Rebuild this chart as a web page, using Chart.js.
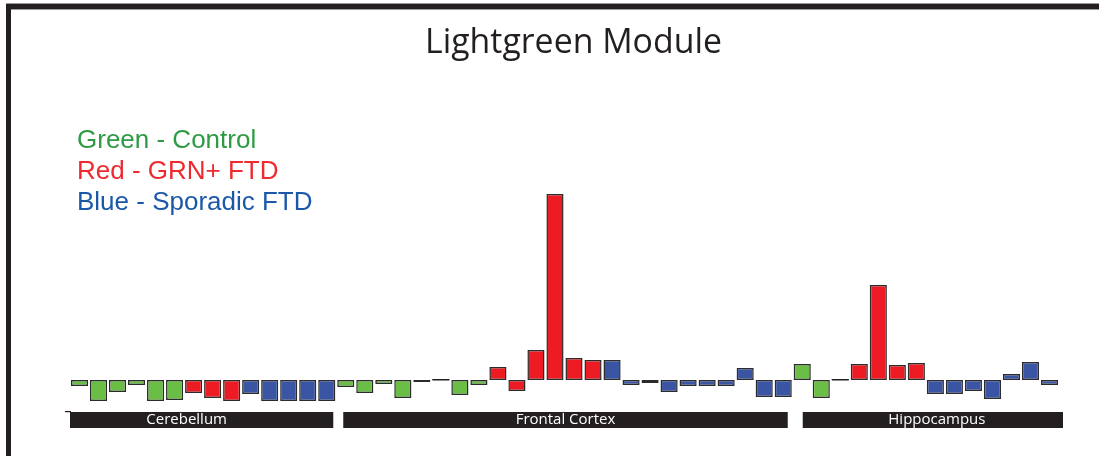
<!DOCTYPE html>
<html>
<head>
<meta charset="utf-8">
<script src="https://cdn.jsdelivr.net/npm/chart.js@4.4.1/dist/chart.umd.min.js"></script>
<style>
  html, body { margin: 0; padding: 0; background: #ffffff; }
  #wrap { width: 1099px; height: 456px; position: relative; }
</style>
</head>
<body>
<div id="wrap"><canvas id="c" width="1099" height="456"></canvas></div>
<script>
// ---- Data ----
const regions = ["Cerebellum", "Frontal Cortex", "Hippocampus"];
const groupNames = ["Green - Control", "Red - GRN+ FTD", "Blue - Sporadic FTD"];

const cerebellumControl  = [-6, -21, -12, -5, -21, -20];
const cerebellumGRN      = [-13, -18, -21];
const cerebellumSporadic = [-14, -21, -21, -21, -21];

const frontalControl  = [-7, -13, -4, -18, -2, 0.5, -15, -5];
const frontalGRN      = [13, -11, 30, 186, 22, 20];
const frontalSporadic = [20, -5, -3, -12, -6, -6, -6, 12, -17, -17];

const hippocampusControl  = [16, -18, 0.5];
const hippocampusGRN      = [16, 95, 15, 17];
const hippocampusSporadic = [-14, -14, -11, -19, 6, 18, -5];

const yMin = -40, yMax = 200;

// ---- Build per-bar series ----
const regionSeries = [
  [cerebellumControl, cerebellumGRN, cerebellumSporadic],
  [frontalControl, frontalGRN, frontalSporadic],
  [hippocampusControl, hippocampusGRN, hippocampusSporadic]
];
const labels = [];
const series = [[], [], []];
const regionRanges = [];
regionSeries.forEach((groups, r) => {
  const start = labels.length;
  groups.forEach((vals, g) => {
    vals.forEach((v, i) => {
      labels.push(regions[r] + " " + groupNames[g].split(" - ")[1] + " " + (i + 1));
      for (let k = 0; k < 3; k++) series[k].push(k === g ? v : null);
    });
  });
  regionRanges.push([start, labels.length]);
});

// ---- Styles ----
const barFill = ["#6abd45", "#ed1c24", "#3a55a4"];
const textColors = ["#2f9a44", "#ee2a30", "#1b58a8"];
const dark = "#231f20";

// label strip layout (offsets in px from category edges)
const stripLayout = [
  { padL: 0, padR: -3, textDx: -15 },
  { padL: 7, padR: -5, textDx: 0 },
  { padL: 10, padR: 4, textDx: 4 }
];

const decor = {
  id: "decor",
  beforeDraw(chart) {
    const ctx = chart.ctx;
    ctx.save();
    ctx.fillStyle = "#fff";
    ctx.fillRect(0, 0, chart.width, chart.height);
    // frame
    ctx.fillStyle = "#9a9a9a";
    ctx.fillRect(6, 3, chart.width - 6, 7);
    ctx.fillStyle = dark;
    ctx.fillRect(6, 4, chart.width - 6, 5);
    ctx.fillRect(6, 4, 5, chart.height - 4);
    // title
    ctx.fillStyle = dark;
    ctx.font = '34px "Open Sans"';
    ctx.textBaseline = "alphabetic";
    ctx.textAlign = "center";
    const title = "Lightgreen Module";
    const w = ctx.measureText(title).width;
    const sx = 297 / w;
    ctx.save();
    ctx.translate(573.5, 53);
    ctx.scale(sx, 1);
    ctx.fillText(title, 0, 0);
    ctx.restore();
    // legend text
    ctx.textAlign = "left";
    ctx.font = '26px "Liberation Sans"';
    groupNames.forEach((t, i) => {
      ctx.fillStyle = textColors[i];
      ctx.fillText(t, 77, 148 + i * 31);
    });
    ctx.restore();
  },
  afterDatasetsDraw(chart) {
    const ctx = chart.ctx;
    const xs = chart.scales.x;
    const ys = chart.scales.y;
    const half = (xs.getPixelForValue(1) - xs.getPixelForValue(0)) / 2;
    const edge = i => xs.getPixelForValue(i) - half;
    ctx.save();
    // zero-height bars show as a thin dark line in the reference
    series.forEach(d => d.forEach((v, i) => {
      if (v !== null && Math.abs(v) < 1) {
        const c = xs.getPixelForValue(i);
        ctx.fillStyle = dark;
        ctx.fillRect(c - half * 0.9, ys.getPixelForValue(0) - 1, half * 1.8, 1.5);
      }
    }));
    ctx.fillStyle = dark;
    // small tick at the left
    ctx.fillRect(65, 411, 6, 1.2);
    ctx.font = '15px "Open Sans"';
    ctx.textAlign = "center";
    ctx.textBaseline = "middle";
    regionRanges.forEach(([s, e], r) => {
      const L = stripLayout[r];
      const x0 = edge(s) + L.padL, x1 = edge(e) + L.padR;
      ctx.fillStyle = dark;
      ctx.fillRect(x0, 412, x1 - x0, 16);
      ctx.fillStyle = "#ffffff";
      const cx = (x0 + x1) / 2 + L.textDx;
      ctx.fillText(regions[r], cx, 420);
    });
    ctx.restore();
  }
};

new Chart(document.getElementById("c"), {
  type: "bar",
  data: {
    labels: labels,
    datasets: series.map((d, k) => ({
      label: groupNames[k],
      data: d,
      backgroundColor: barFill[k],
      borderColor: "#2b2b2b",
      borderWidth: 1.5,
      borderSkipped: false,
      barPercentage: 0.9,
      categoryPercentage: 1.0
    }))
  },
  options: {
    responsive: false,
    animation: false,
    devicePixelRatio: 1,
    layout: { padding: { left: 70, right: 40, top: 180, bottom: 36 } },
    plugins: { legend: { display: false }, title: { display: false }, tooltip: { enabled: false } },
    scales: {
      x: { stacked: true, display: false },
      y: { stacked: true, display: false, min: yMin, max: yMax }
    }
  },
  plugins: [decor]
});
</script>
</body>
</html>
